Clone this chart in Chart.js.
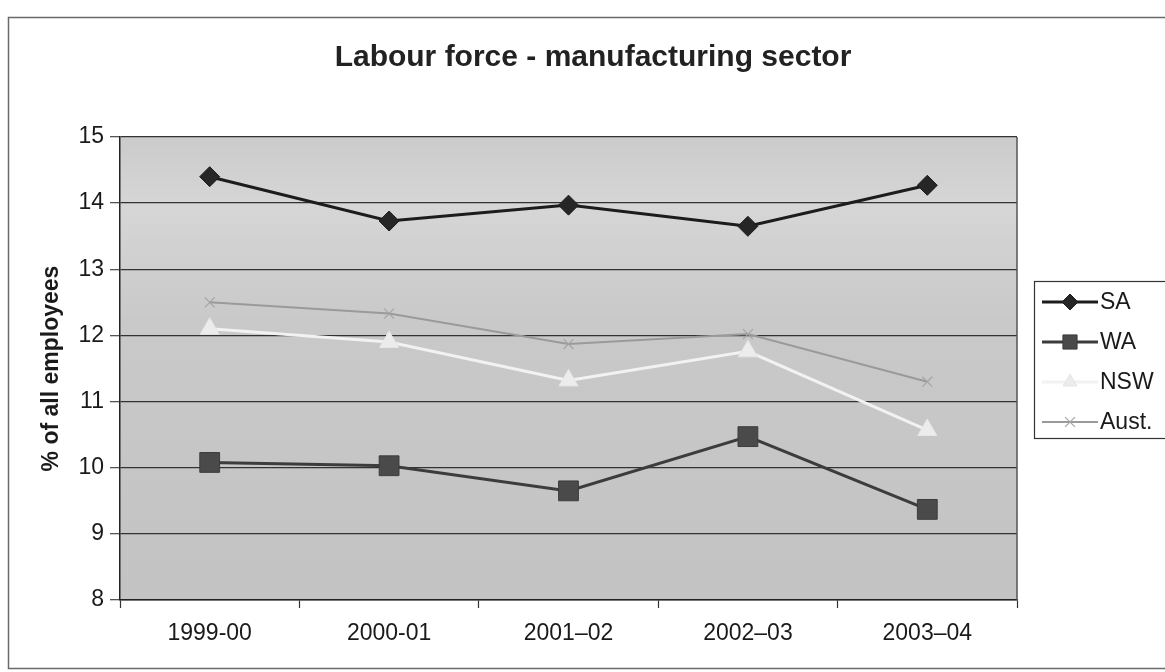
<!DOCTYPE html>
<html>
<head>
<meta charset="utf-8">
<title>Labour force - manufacturing sector</title>
<script src="https://cdn.jsdelivr.net/npm/chart.js@4/dist/chart.umd.min.js"></script>
<style>
  html, body { margin: 0; padding: 0; background: #ffffff; }
  #wrap { width: 1165px; height: 672px; }
</style>
</head>
<body>
<div id="wrap"><canvas id="chart" width="1165" height="672"></canvas></div>
<script>
// Financial years shown on the category axis
const years = ['1999-00', '2000-01', '2001\u201302', '2002\u201303', '2003\u201304'];

// Manufacturing employment, % of all employees
const saValues   = [14.40, 13.73, 13.97, 13.65, 14.27];
const waValues   = [10.08, 10.03, 9.65, 10.47, 9.37];
const nswValues  = [12.10, 11.90, 11.32, 11.76, 10.57];
const austValues = [12.50, 12.33, 11.87, 12.02, 11.30];

// Value axis ticks
const yTicks = [8, 9, 10, 11, 12, 13, 14, 15];

const chartTitle = 'Labour force - manufacturing sector';
const yAxisTitle = '% of all employees';

const FONT = '"Liberation Sans", Arial, sans-serif';

// Paints the page frame, the grey plot area and the heading
const framePlugin = {
  id: 'frame',
  beforeDraw(chart) {
    const { ctx, chartArea: a } = chart;
    ctx.save();
    ctx.fillStyle = '#ffffff';
    ctx.fillRect(0, 0, chart.width, chart.height);
    ctx.strokeStyle = '#6a6a6a';
    ctx.lineWidth = 1.5;
    ctx.strokeRect(8.5, 17.5, chart.width + 10, 651);

    const g = ctx.createLinearGradient(0, a.top, 0, a.bottom);
    g.addColorStop(0, '#cbcbcb');
    g.addColorStop(0.15, '#d6d6d6');
    g.addColorStop(0.4, '#c9c9c9');
    g.addColorStop(1, '#c3c3c3');
    ctx.fillStyle = g;
    ctx.fillRect(a.left, a.top, a.right - a.left, a.bottom - a.top);

    ctx.fillStyle = '#222222';
    ctx.font = 'bold 30px ' + FONT;
    ctx.textAlign = 'center';
    ctx.textBaseline = 'middle';
    ctx.fillText(chartTitle, 593, 58);
    ctx.restore();
  },
  afterDatasetsDraw(chart) {
    const { ctx, chartArea: a } = chart;
    ctx.save();
    ctx.strokeStyle = '#555555';
    ctx.lineWidth = 1.5;
    ctx.beginPath();
    ctx.moveTo(a.right, a.top);
    ctx.lineTo(a.right, a.bottom);
    ctx.stroke();
    ctx.restore();
  }
};

// Legend box on the right: line segment with the series marker, then its name
const legendPlugin = {
  id: 'sideLegend',
  afterDraw(chart) {
    const { ctx } = chart;
    const boxX = 1034, boxY = 281, boxH = 157;
    ctx.save();
    ctx.fillStyle = '#ffffff';
    ctx.fillRect(boxX, boxY, chart.width - boxX + 5, boxH);
    ctx.strokeStyle = '#333333';
    ctx.lineWidth = 1.2;
    ctx.strokeRect(boxX + 0.5, boxY + 0.5, chart.width - boxX + 5, boxH);

    chart.data.datasets.forEach((ds, i) => {
      const y = 302 + i * 40;
      ctx.strokeStyle = ds.borderColor;
      ctx.lineWidth = ds.borderWidth;
      ctx.beginPath();
      ctx.moveTo(1042, y);
      ctx.lineTo(1098, y);
      ctx.stroke();
      ctx.fillStyle = ds.pointBackgroundColor;
      ctx.strokeStyle = ds.pointBorderColor;
      ctx.lineWidth = ds.pointBorderWidth;
      Chart.helpers.drawPoint(ctx, {
        pointStyle: ds.pointStyle,
        radius: ds.legendRadius,
        rotation: 0,
        borderWidth: ds.pointBorderWidth
      }, 1070, y);
      ctx.fillStyle = '#1a1a1a';
      ctx.font = '23px ' + FONT;
      ctx.textAlign = 'left';
      ctx.textBaseline = 'middle';
      ctx.fillText(ds.label, 1100, y + 1);
    });
    ctx.restore();
  }
};

new Chart(document.getElementById('chart'), {
  type: 'line',
  data: {
    labels: years,
    datasets: [
      {
        label: 'SA', data: saValues,
        borderColor: '#1c1c1c', borderWidth: 3,
        pointStyle: 'rectRot', pointRadius: 10, legendRadius: 8,
        pointBackgroundColor: '#262626', pointBorderColor: '#1c1c1c', pointBorderWidth: 1
      },
      {
        label: 'WA', data: waValues,
        borderColor: '#3c3c3c', borderWidth: 3,
        pointStyle: 'rect', pointRadius: 14, legendRadius: 10,
        pointBackgroundColor: '#4a4a4a', pointBorderColor: '#3c3c3c', pointBorderWidth: 1
      },
      {
        label: 'NSW', data: nswValues,
        borderColor: '#f2f2f2', borderWidth: 3,
        pointStyle: 'triangle', pointRadius: 11, legendRadius: 8,
        pointBackgroundColor: '#ececec', pointBorderColor: '#e6e6e6', pointBorderWidth: 1
      },
      {
        label: 'Aust.', data: austValues,
        borderColor: '#9a9a9a', borderWidth: 2,
        pointStyle: 'crossRot', pointRadius: 7, legendRadius: 7,
        pointBackgroundColor: '#a4a4a4', pointBorderColor: '#a4a4a4', pointBorderWidth: 1.2
      }
    ]
  },
  options: {
    responsive: false,
    animation: false,
    devicePixelRatio: 1,
    layout: { padding: { left: 8, right: 148, top: 137, bottom: 12 } },
    plugins: {
      legend: { display: false },
      title: { display: false },
      tooltip: { enabled: false }
    },
    elements: { line: { tension: 0 } },
    scales: {
      x: {
        offset: true,
        grid: {
          offset: true, drawOnChartArea: false,
          color: '#333333', tickLength: 8, tickWidth: 1.2
        },
        border: { display: true, color: '#222222', width: 1.5 },
        ticks: {
          color: '#1a1a1a', padding: 12,
          font: { family: FONT, size: 23 },
          maxRotation: 0, autoSkip: false
        },
        afterFit(scale) { scale.height = 60; }
      },
      y: {
        min: yTicks[0],
        max: yTicks[yTicks.length - 1],
        afterBuildTicks(scale) { scale.ticks = yTicks.map(v => ({ value: v })); },
        grid: { color: '#333333', lineWidth: 1.3, tickLength: 10, tickColor: '#555555' },
        border: { display: true, color: '#222222', width: 1.5 },
        ticks: {
          color: '#1a1a1a', padding: 6,
          font: { family: FONT, size: 23 }
        },
        title: {
          display: true, text: yAxisTitle, color: '#1a1a1a',
          font: { family: FONT, size: 23, weight: 'bold' },
          padding: { top: 30, bottom: 0 }
        },
        afterFit(scale) { scale.width = 112; }
      }
    }
  },
  plugins: [framePlugin, legendPlugin]
});
</script>
</body>
</html>
